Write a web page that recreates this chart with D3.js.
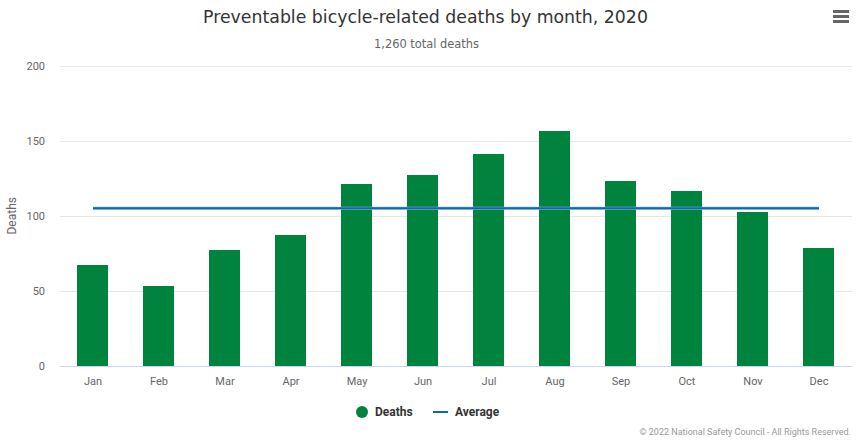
<!DOCTYPE html>
<html><head><meta charset="utf-8">
<script src="https://cdn.jsdelivr.net/npm/d3@7"></script>
<style>body{margin:0;background:#fff;}svg{display:block;font-family:"DejaVu Sans",Arial,sans-serif;}</style>
</head><body>
<script>
const months = ["Jan","Feb","Mar","Apr","May","Jun","Jul","Aug","Sep","Oct","Nov","Dec"];
const deaths = [68,54,78,88,122,128,142,157,124,117,103,79];
const average = [105,105,105,105,105,105,105,105,105,105,105,105];
const yTicks = [0,50,100,150,200];
const titleText = "Preventable bicycle-related deaths by month, 2020";
const subtitleText = "1,260 total deaths";

const W=859,H=443, L=60, R=852, T=65.5, B=366;
const svg=d3.select("body").append("svg").attr("width",W).attr("height",H);
const x=d3.scaleBand().domain(months).range([L,R]).paddingInner(0.53).paddingOuter(0.265);
const xc=d3.scaleBand().domain(months).range([L,R]);
const y=d3.scaleLinear().domain([0,200]).range([B,T]);

function fitText(sel, target){
  const w=sel.node().getComputedTextLength();
  const fs=parseFloat(sel.attr("font-size"));
  sel.attr("font-size", (fs*target/w).toFixed(2));
}

// grid
svg.append("g").selectAll("line").data(yTicks.filter(d=>d>0)).join("line")
 .attr("x1",L).attr("x2",R).attr("y1",d=>Math.round(y(d))+0.5).attr("y2",d=>Math.round(y(d))+0.5)
 .attr("stroke","#e6e6e6").attr("stroke-width",1);
// y labels
svg.append("g").selectAll("text").data(yTicks).join("text")
 .attr("x",45).attr("y",d=>y(d)+4).attr("text-anchor","end").attr("font-size",11).attr("fill","#666")
 .attr("font-family","Roboto, Arial, sans-serif").text(d=>d);
// y title
svg.append("text").attr("transform",`translate(16,${(T+B)/2}) rotate(-90)`).attr("text-anchor","middle")
 .attr("font-size",12).attr("fill","#666").attr("font-family","Roboto, Arial, sans-serif").text("Deaths");
// bars
svg.append("g").attr("shape-rendering","crispEdges").selectAll("rect").data(deaths).join("rect")
 .attr("x",(d,i)=>Math.round(x(months[i]))).attr("width",Math.round(x.bandwidth()))
 .attr("y",d=>Math.round(y(d)+1)).attr("height",d=>B-Math.round(y(d)+1)).attr("fill","#00843D");
// x axis line
svg.append("line").attr("x1",L).attr("x2",R).attr("y1",B+0.5).attr("y2",B+0.5).attr("stroke","#ccd6eb");
// x labels
svg.append("g").selectAll("text").data(months).join("text")
 .attr("x",d=>xc(d)+xc.bandwidth()/2).attr("y",385).attr("text-anchor","middle")
 .attr("font-size",11).attr("fill","#666").attr("font-family","Roboto, Arial, sans-serif").text(d=>d);
// average line
const line=d3.line().x((d,i)=>xc(months[i])+xc.bandwidth()/2).y(d=>y(d));
svg.append("path").datum(average).attr("d",line).attr("fill","none").attr("stroke","#8fb8dc").attr("stroke-width",3);
svg.append("path").datum(average).attr("d",line).attr("fill","none").attr("stroke","#0a67b2").attr("stroke-width",2);
// title
const t1=svg.append("text").attr("x",425.5).attr("y",23).attr("text-anchor","middle").attr("font-size",18)
 .attr("fill","#333").attr("font-family","'DejaVu Sans', sans-serif").text(titleText);
fitText(t1,445);
const t2=svg.append("text").attr("x",426.5).attr("y",48).attr("text-anchor","middle").attr("font-size",12)
 .attr("fill","#666").attr("font-family","'DejaVu Sans', sans-serif").text(subtitleText);
fitText(t2,105);
// legend
const lg=svg.append("g").attr("font-family","Roboto, Arial, sans-serif").attr("font-size",12).attr("font-weight","bold").attr("fill","#333");
lg.append("circle").attr("cx",362).attr("cy",412).attr("r",6).attr("fill","#00843D");
lg.append("text").attr("x",375).attr("y",416).text("Deaths");
lg.append("line").attr("x1",433).attr("x2",448).attr("y1",412).attr("y2",412).attr("stroke","#0a67b2").attr("stroke-width",2);
lg.append("text").attr("x",455).attr("y",416).text("Average");
// credits
svg.append("text").attr("x",851).attr("y",435).attr("text-anchor","end").attr("font-size",9)
 .attr("fill","#999").attr("font-family","Roboto, Arial, sans-serif").text("© 2022 National Safety Council - All Rights Reserved.");
// menu icon
svg.append("g").selectAll("line").data([0,1,2]).join("line")
 .attr("x1",833).attr("x2",849).attr("y1",d=>11.5+d*5).attr("y2",d=>11.5+d*5)
 .attr("stroke","#666").attr("stroke-width",3);
</script>
</body></html>
